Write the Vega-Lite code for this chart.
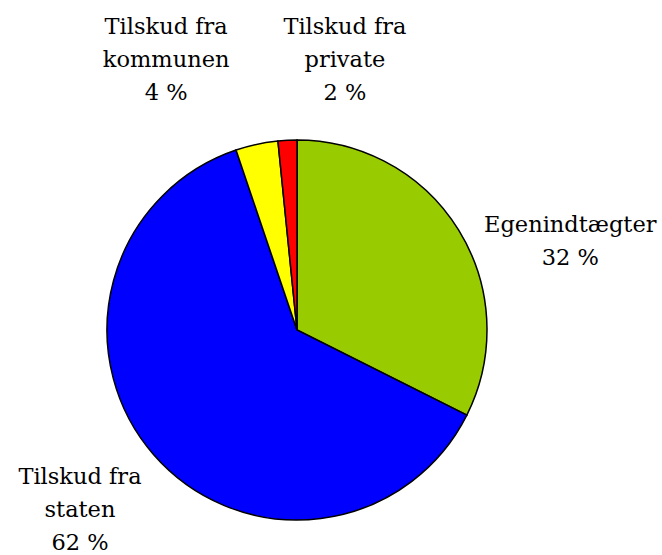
{
  "$schema": "https://vega.github.io/schema/vega-lite/v6.json",
  "width": 594,
  "height": 450,
  "autosize": "none",
  "padding": {"left": 0, "top": 105, "right": 68, "bottom": 0},
  "background": "white",
  "config": {"view": {"stroke": null}},
  "data": {
    "values": [
      {"idx": 1, "category": "Egenindtægter", "share": 32.4, "label": "Egenindtægter\n32 %"},
      {"idx": 2, "category": "Tilskud fra staten", "share": 62.4, "label": "Tilskud fra\nstaten\n62 %"},
      {"idx": 3, "category": "Tilskud fra kommunen", "share": 3.6, "label": "Tilskud fra\nkommunen\n4 %"},
      {"idx": 4, "category": "Tilskud fra private", "share": 1.6, "label": "Tilskud fra\nprivate\n2 %"}
    ]
  },
  "encoding": {
    "theta": {"field": "share", "type": "quantitative", "stack": true},
    "order": {"field": "idx", "type": "quantitative"}
  },
  "layer": [
    {
      "mark": {"type": "arc", "outerRadius": 190, "stroke": "black", "strokeWidth": 1.5},
      "encoding": {
        "color": {
          "field": "category",
          "type": "nominal",
          "scale": {
            "domain": ["Egenindtægter", "Tilskud fra staten", "Tilskud fra kommunen", "Tilskud fra private"],
            "range": ["#99CC00", "#0000FF", "#FFFF00", "#FF0000"]
          },
          "legend": null
        }
      }
    },
    {
      "mark": {"type": "text", "radius": 240, "dx": 69, "dy": 21, "font": "DejaVu Serif", "fontSize": 22.5, "lineHeight": 33, "lineBreak": "\n", "color": "black", "align": "center", "baseline": "middle"},
      "encoding": {"text": {"condition": {"test": "datum.idx == 1", "field": "label"}, "value": ""}}
    },
    {
      "mark": {"type": "text", "radius": 240, "dx": -36, "dy": -11, "font": "DejaVu Serif", "fontSize": 22.5, "lineHeight": 33, "lineBreak": "\n", "color": "black", "align": "center", "baseline": "middle"},
      "encoding": {"text": {"condition": {"test": "datum.idx == 2", "field": "label"}, "value": ""}}
    },
    {
      "mark": {"type": "text", "radius": 240, "dx": -80, "dy": -68, "font": "DejaVu Serif", "fontSize": 22.5, "lineHeight": 33, "lineBreak": "\n", "color": "black", "align": "center", "baseline": "middle"},
      "encoding": {"text": {"condition": {"test": "datum.idx == 3", "field": "label"}, "value": ""}}
    },
    {
      "mark": {"type": "text", "radius": 240, "dx": 60, "dy": -63, "font": "DejaVu Serif", "fontSize": 22.5, "lineHeight": 33, "lineBreak": "\n", "color": "black", "align": "center", "baseline": "middle"},
      "encoding": {"text": {"condition": {"test": "datum.idx == 4", "field": "label"}, "value": ""}}
    }
  ]
}
